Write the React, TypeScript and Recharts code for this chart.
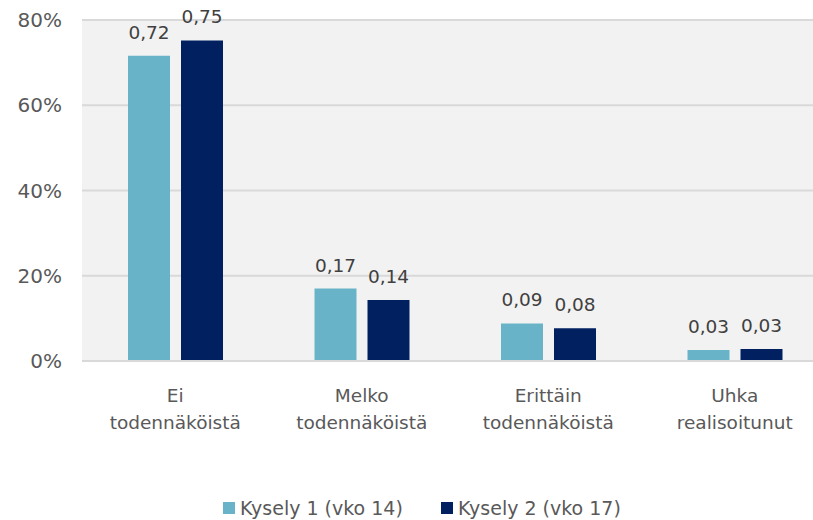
import { BarChart, Bar, XAxis, YAxis, CartesianGrid, Legend, LabelList } from 'recharts'

const categories = ['Ei todennäköistä', 'Melko todennäköistä', 'Erittäin todennäköistä', 'Uhka realisoitunut']
const kysely1 = [0.716, 0.17, 0.088, 0.026]
const kysely2 = [0.752, 0.143, 0.077, 0.028]
const seriesNames = ['Kysely 1 (vko 14)', 'Kysely 2 (vko 17)']
const yTicks = [0, 0.2, 0.4, 0.6, 0.8]

const colors = ['#69b3c8', '#002060']
const FONT = '"DejaVu Sans", sans-serif'

const data = categories.map((name, i) => ({
  name,
  k1: kysely1[i],
  k2: kysely2[i],
}))

const CategoryTick = ({ x, y, payload }: any) => {
  const label: string = payload.value
  const idx = label.indexOf(' ')
  const lines = idx > 0 ? [label.slice(0, idx), label.slice(idx + 1)] : [label]
  return (
    <text x={x} y={y} textAnchor="middle" fill="#595959" fontSize={18.5} fontFamily={FONT}>
      {lines.map((line, i) => (
        <tspan key={i} x={x} y={y + 33 + i * 27}>
          {line}
        </tspan>
      ))}
    </text>
  )
}

const LegendContent = () => (
  <div
    style={{
      height: 24,
      display: 'flex',
      alignItems: 'center',
      paddingLeft: 223,
      fontFamily: FONT,
      fontSize: 19,
      color: '#595959',
    }}
  >
    {seriesNames.map((s, i) => (
      <div key={s} style={{ display: 'flex', alignItems: 'center', width: i === 0 ? 218 : 'auto', whiteSpace: 'nowrap' }}>
        <span style={{ width: 12, height: 12, background: colors[i], marginRight: 5, display: 'inline-block', flexShrink: 0 }} />
        <span>{s}</span>
      </div>
    ))}
  </div>
)

const fmt = (v: any) => Number(v).toFixed(2).replace('.', ',')

export default function App() {
  return (
    <div style={{ position: 'absolute', left: 0, top: 0, width: 813, height: 520, overflow: 'hidden', background: '#fff' }}>
      <BarChart
        width={840}
        height={520}
        data={data}
        margin={{ top: 20, right: 12, bottom: 0, left: 0 }}
        barSize={42}
        barGap={11}
      >
        <CartesianGrid vertical={false} stroke="#d9d9d9" strokeWidth={2} fill="#f2f2f2" />
        <XAxis
          dataKey="name"
          height={135}
          axisLine={{ stroke: '#d9d9d9', strokeWidth: 2 }}
          tickLine={false}
          interval={0}
          tick={<CategoryTick />}
        />
        <YAxis
          width={82}
          domain={[0, 0.8]}
          ticks={yTicks}
          axisLine={false}
          tickLine={false}
          tickSize={0}
          tickMargin={20}
          tickFormatter={(v: number) => `${Math.round(v * 100)}%`}
          tick={{ fill: '#595959', fontSize: 20, fontFamily: FONT }}
        />
        <Legend verticalAlign="bottom" align="left" content={<LegendContent />} />
        <Bar dataKey="k1" name={seriesNames[0]} fill={colors[0]} isAnimationActive={false}>
          <LabelList dataKey="k1" position="top" offset={17} fill="#404040" fontSize={18.5} fontFamily={FONT} formatter={fmt} />
        </Bar>
        <Bar dataKey="k2" name={seriesNames[1]} fill={colors[1]} isAnimationActive={false}>
          <LabelList dataKey="k2" position="top" offset={17} fill="#404040" fontSize={18.5} fontFamily={FONT} formatter={fmt} />
        </Bar>
      </BarChart>
    </div>
  )
}
